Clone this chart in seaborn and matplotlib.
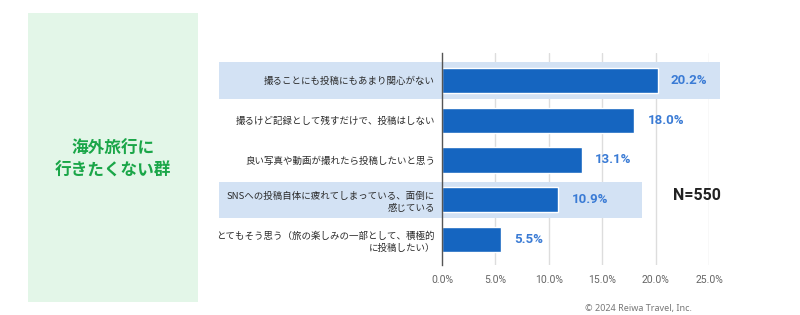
import matplotlib
matplotlib.use("Agg")
import matplotlib.pyplot as plt
import matplotlib.transforms as mtransforms
from matplotlib.patches import Rectangle
import seaborn as sns
import pandas as pd

categories = [
    "撮ることにも投稿にもあまり関心がない",
    "撮るけど記録として残すだけで、投稿はしない",
    "良い写真や動画が撮れたら投稿したいと思う",
    "SNSへの投稿自体に疲れてしまっている、面倒に\n感じている",
    "とてもそう思う（旅の楽しみの一部として、積極的\nに投稿したい）",
]
values = [20.2, 18.0, 13.1, 10.9, 5.5]
xticks = [0, 5, 10, 15, 20, 25]
highlight_rows = [0, 3]
group_title = "海外旅行に\n行きたくない群"
n_label = "N=550"
credit = "© 2024 Reiwa Travel, Inc."

sns.set_theme(style="white")
plt.rcParams["font.family"] = ["Noto Sans CJK JP", "DejaVu Sans"]

W, H = 800, 315
fig = plt.figure(figsize=(8, 3.15), dpi=100)
fig.patch.set_facecolor("white")

# green side panel
fig.patches.append(Rectangle((28 / W, 1 - 302 / H), 170 / W, 289 / H,
                             transform=fig.transFigure, facecolor="#e3f6e8",
                             edgecolor="none", zorder=0))
fig.text(113 / W, 1 - 160 / H, group_title, ha="center", va="center",
         fontsize=12, fontweight="bold", color="#1aa648", linespacing=1.3)

ax = fig.add_axes([442 / W, 1 - 265 / H, 267 / W, 212 / H])
df = pd.DataFrame({"cat": categories, "val": values})
sns.barplot(data=df, y="cat", x="val", orient="h", color="#1565c0",
            saturation=1, width=0.63, ax=ax, zorder=3)
ax.set_axisbelow(False)
ax.set_xlim(0, 25)
ax.set_ylim(4.64, -0.69)
ax.set_xticks(xticks)
ax.set_xticklabels([f"{t:.1f}%" for t in xticks], fontsize=7.5, color="#666666",
                   family=["Roboto", "DejaVu Sans"])
ax.tick_params(axis="x", length=0, pad=7)
ax.tick_params(axis="y", length=0, pad=5)
ax.set_yticks(range(len(categories)))
ax.set_yticklabels(categories, fontsize=6.8, color="#2a2a2a", linespacing=1.45)
ax.set_xlabel("")
ax.set_ylabel("")
for s in ["top", "right", "bottom"]:
    ax.spines[s].set_visible(False)
ax.spines["left"].set_color("#555555")
ax.spines["left"].set_linewidth(1)
ax.spines["left"].set_zorder(4)
ax.grid(False)
for t in xticks[1:]:
    ax.axvline(t, color="#dddddd", linewidth=1, zorder=0.5)
ax.patch.set_alpha(0)

# highlight bands
blend = mtransforms.blended_transform_factory(fig.transFigure, ax.transData)
band_right = {0: 720 / W, 3: 642 / W}
for r in highlight_rows:
    ax.add_patch(Rectangle((219 / W, r - 0.455), band_right[r] - 219 / W, 0.91,
                           transform=blend, facecolor="#d3e2f4",
                           edgecolor="none", clip_on=False, zorder=1))

ax.bar_label(ax.containers[0], labels=[f"{v:.1f}%" for v in values],
             padding=9.5, fontsize=9.5, fontweight="bold", color="#3a7bd5",
             family=["Roboto", "DejaVu Sans"])

fig.text(697 / W, 1 - 195 / H, n_label, ha="center", va="center",
         fontsize=11.5, fontweight="bold", color="#222222",
         family=["Roboto", "DejaVu Sans"])
fig.text(692 / W, 1 - 308 / H, credit, ha="right", va="center",
         fontsize=6.5, color="#777777", family=["Noto Sans", "DejaVu Sans"])

fig.savefig("out.png", dpi=100)
